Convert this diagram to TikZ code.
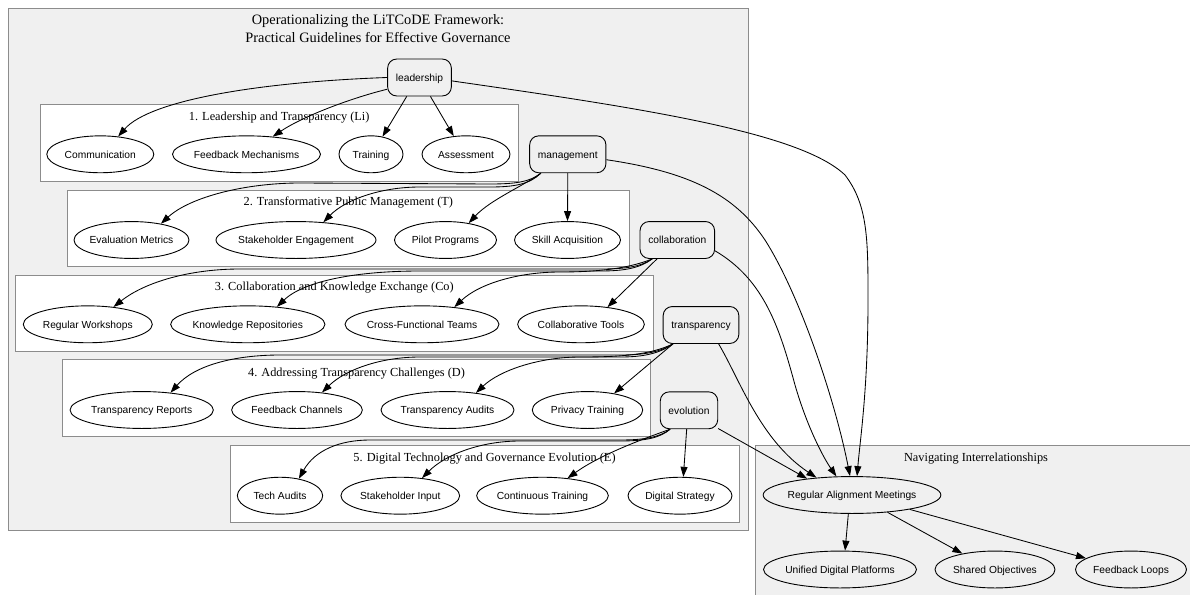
\documentclass[tikz,border=0pt]{standalone}
\usepackage{fontspec}
\setmainfont{Liberation Serif}
\newfontfamily\sansfam{Liberation Sans}
\usetikzlibrary{shapes.geometric,arrows.meta}
\definecolor{clusterfill}{RGB}{240,240,240}
\definecolor{clusterline}{RGB}{140,140,140}
\newcommand\nodefont{\sansfam\fontsize{10.25pt}{12pt}\selectfont}
\newcommand\clusterfont{\fontsize{12.3pt}{14.5pt}\selectfont}
\newcommand\titlefont{\fontsize{14.35pt}{17pt}\selectfont}
% ellipse node: name, centre, width, label
\newcommand\ellnode[4]{%
  \node[ellnd, minimum width=#3pt] (#1) at (#2) {\makebox[0pt]{#4}};}

\begin{document}
\begin{tikzpicture}[x=1pt,y=-1pt,
  ellnd/.style={ellipse, draw=black, line width=0.9pt, inner sep=0pt,
    minimum height=36.9pt, font=\nodefont, text height=7.4pt, text depth=0pt},
  hub/.style={rectangle, rounded corners=9pt, draw=black, line width=0.9pt,
    inner xsep=8.2pt, inner ysep=0pt, minimum height=36.9pt, minimum width=55.4pt,
    font=\nodefont, text height=7.4pt, text depth=0pt},
  cluster/.style={draw=clusterline, line width=0.8pt},
  clabel/.style={font=\clusterfont, anchor=base, inner sep=0pt},
  edge/.style={line width=0.85pt, -{Triangle[length=10pt,width=7pt]}},
]
\useasboundingbox (0,0) rectangle (1190,594);

% ---- clusters ----
\path[cluster, fill=clusterfill] (8,8) rectangle (748.3,530.5);
\node[font=\titlefont, anchor=base, inner sep=0pt] (title1) at (378,25) {Operationalizing the LiTCoDE Framework:};
\node[font=\titlefont, anchor=base, inner sep=0pt] (title2) at (378,43) {Practical Guidelines for Effective Governance};

\path[cluster, fill=white] (40,104) rectangle (518.3,181);
\node[clabel] (lab1) at (279.2,120.8) {1. Leadership and Transparency (Li)};
\path[cluster, fill=white] (67.7,190) rectangle (629,266);
\node[clabel] (lab2) at (348.3,205.8) {2. Transformative Public Management (T)};
\path[cluster, fill=white] (15.7,275) rectangle (653,351);
\node[clabel] (lab3) at (334.3,290.8) {3. Collaboration and Knowledge Exchange (Co)};
\path[cluster, fill=white] (62.3,359.5) rectangle (650.7,436.7);
\node[clabel] (lab4) at (356.5,376.8) {4. Addressing Transparency Challenges (D)};
\path[cluster, fill=white] (230,445.7) rectangle (739,522.3);
\node[clabel] (lab5) at (484.5,461.4) {5. Digital Technology and Governance Evolution (E)};

\begin{scope}
  \clip (0,0) rectangle (1190,594);
  \path[cluster, fill=clusterfill] (755.7,445) rectangle (1197,600);
\end{scope}
\node[clabel] (lab6) at (976,461.8) {Navigating Interrelationships};

% ---- hub nodes ----
\node[hub] (lead)   at (419.5,77.5)  {leadership};
\node[hub] (mgmt)   at (567.8,154.3) {management};
\node[hub] (collab) at (677.3,240)   {collaboration};
\node[hub] (trans)  at (701,325)     {transparency};
\node[hub] (evo)    at (689,410.3)   {evolution};

% ---- practice nodes ----
\ellnode{comm}{100.3,154.3}{107}{Communication}
\ellnode{fm}{246.5,154.3}{148}{Feedback Mechanisms}
\ellnode{train}{371,154.3}{64}{Training}
\ellnode{assess}{466,154.3}{88}{Assessment}

\ellnode{eval}{131.5,240}{115}{Evaluation Metrics}
\ellnode{stk}{296,240}{160}{Stakeholder Engagement}
\ellnode{pilot}{445.5,240}{102}{Pilot Programs}
\ellnode{skill}{567.5,240}{106}{Skill Acquisition}

\ellnode{rw}{87.8,324.3}{129}{Regular Workshops}
\ellnode{kr}{247.8,324.3}{154.3}{Knowledge Repositories}
\ellnode{cft}{422,324.3}{154}{Cross-Functional Teams}
\ellnode{ctools}{581,324.3}{126.7}{Collaborative Tools}

\ellnode{trep}{141.7,410}{143.3}{Transparency Reports}
\ellnode{fch}{297,410}{130.7}{Feedback Channels}
\ellnode{taud}{447.5,410}{133}{Transparency Audits}
\ellnode{priv}{587.5,410}{110.4}{Privacy Training}

\ellnode{tech}{280,495.7}{85.3}{Tech Audits}
\ellnode{sin}{400.3,495.7}{118.7}{Stakeholder Input}
\ellnode{ctr}{542.5,495.7}{131.7}{Continuous Training}
\ellnode{dstrat}{680,495.7}{104}{Digital Strategy}

\ellnode{ram}{852,495}{177.7}{Regular Alignment Meetings}
\ellnode{udp}{840,569.5}{153}{Unified Digital Platforms}
\ellnode{so}{995,569.5}{120}{Shared Objectives}
\ellnode{fl}{1131,569.5}{111}{Feedback Loops}

% ---- leadership edges ----
\draw[edge] (lead.west) .. controls (260,82) and (150,100) .. (comm.45);
\draw[edge] (lead.200) .. controls (355,97) and (305,115) .. (fm.34);
\draw[edge] (lead.236) -- (train.57);
\draw[edge] (lead.300) -- (assess.124);
\draw[edge] (lead.354) .. controls (640,108) and (800,132) .. (845,175)
  .. controls (868,205) and (868,240) .. (868,300)
  .. controls (868,390) and (860,440) .. (ram.75);

% ---- management edges ----
\draw[edge] (mgmt.215) .. controls (530,182) and (515,184) .. (490,184) -- (300,183)
  .. controls (245,183) and (190,197) .. (eval.29);
\draw[edge] (mgmt.215) .. controls (530,184) and (515,187) .. (490,187) -- (420,187)
  .. controls (380,187) and (345,200) .. (stk.33);
\draw[edge] (mgmt.215) .. controls (525,185) and (490,200) .. (pilot.36);
\draw[edge] (mgmt.south) -- (skill.north);
\draw[edge] (mgmt.352) .. controls (690,172) and (735,195) .. (765,240)
  .. controls (800,295) and (835,400) .. (ram.96);

% ---- collaboration edges ----
\draw[edge] (collab.217) .. controls (640,267) and (625,269) .. (600,269) -- (240,269)
  .. controls (190,269) and (145,282) .. (rw.34);
\draw[edge] (collab.217) .. controls (640,268) and (625,271) .. (600,271) -- (420,271)
  .. controls (360,271) and (305,280) .. (kr.31);
\draw[edge] (collab.217) .. controls (630,268) and (600,272) .. (560,272)
  .. controls (520,272) and (480,283) .. (cft.28);
\draw[edge] (collab.223) -- (ctools.33);
\draw[edge] (collab.344) .. controls (765,280) and (780,330) .. (795,385)
  .. controls (808,430) and (825,460) .. (ram.130);

% ---- transparency edges ----
\draw[edge] (trans.214) .. controls (660,352) and (645,355) .. (620,355) -- (280,355)
  .. controls (235,355) and (195,365) .. (trep.31);
\draw[edge] (trans.214) .. controls (660,353) and (645,357) .. (620,357) -- (420,357)
  .. controls (380,357) and (345,370) .. (fch.35);
\draw[edge] (trans.214) .. controls (650,355) and (620,357) .. (580,357)
  .. controls (540,357) and (500,370) .. (taud.31);
\draw[edge] (trans.214) -- (priv.32);
\draw[edge] (trans.313) .. controls (740,380) and (760,440) .. (ram.154);

% ---- evolution edges ----
\draw[edge] (evo.225) .. controls (660,437) and (645,440) .. (620,440) -- (370,440)
  .. controls (340,440) and (315,450) .. (tech.42);
\draw[edge] (evo.225) .. controls (660,438) and (645,441) .. (620,441) -- (520,441)
  .. controls (480,441) and (445,455) .. (sin.39);
\draw[edge] (evo.225) .. controls (640,440) and (600,455) .. (ctr.35);
\draw[edge] (evo.263) -- (dstrat.80);
\draw[edge] (evo.328) -- (ram.160);

% ---- interrelationship edges ----
\draw[edge] (ram.259) -- (udp.75);
\draw[edge] (ram.334) -- (so.154);
\draw[edge] (ram.346) -- (fl.166);
\end{tikzpicture}
\end{document}
